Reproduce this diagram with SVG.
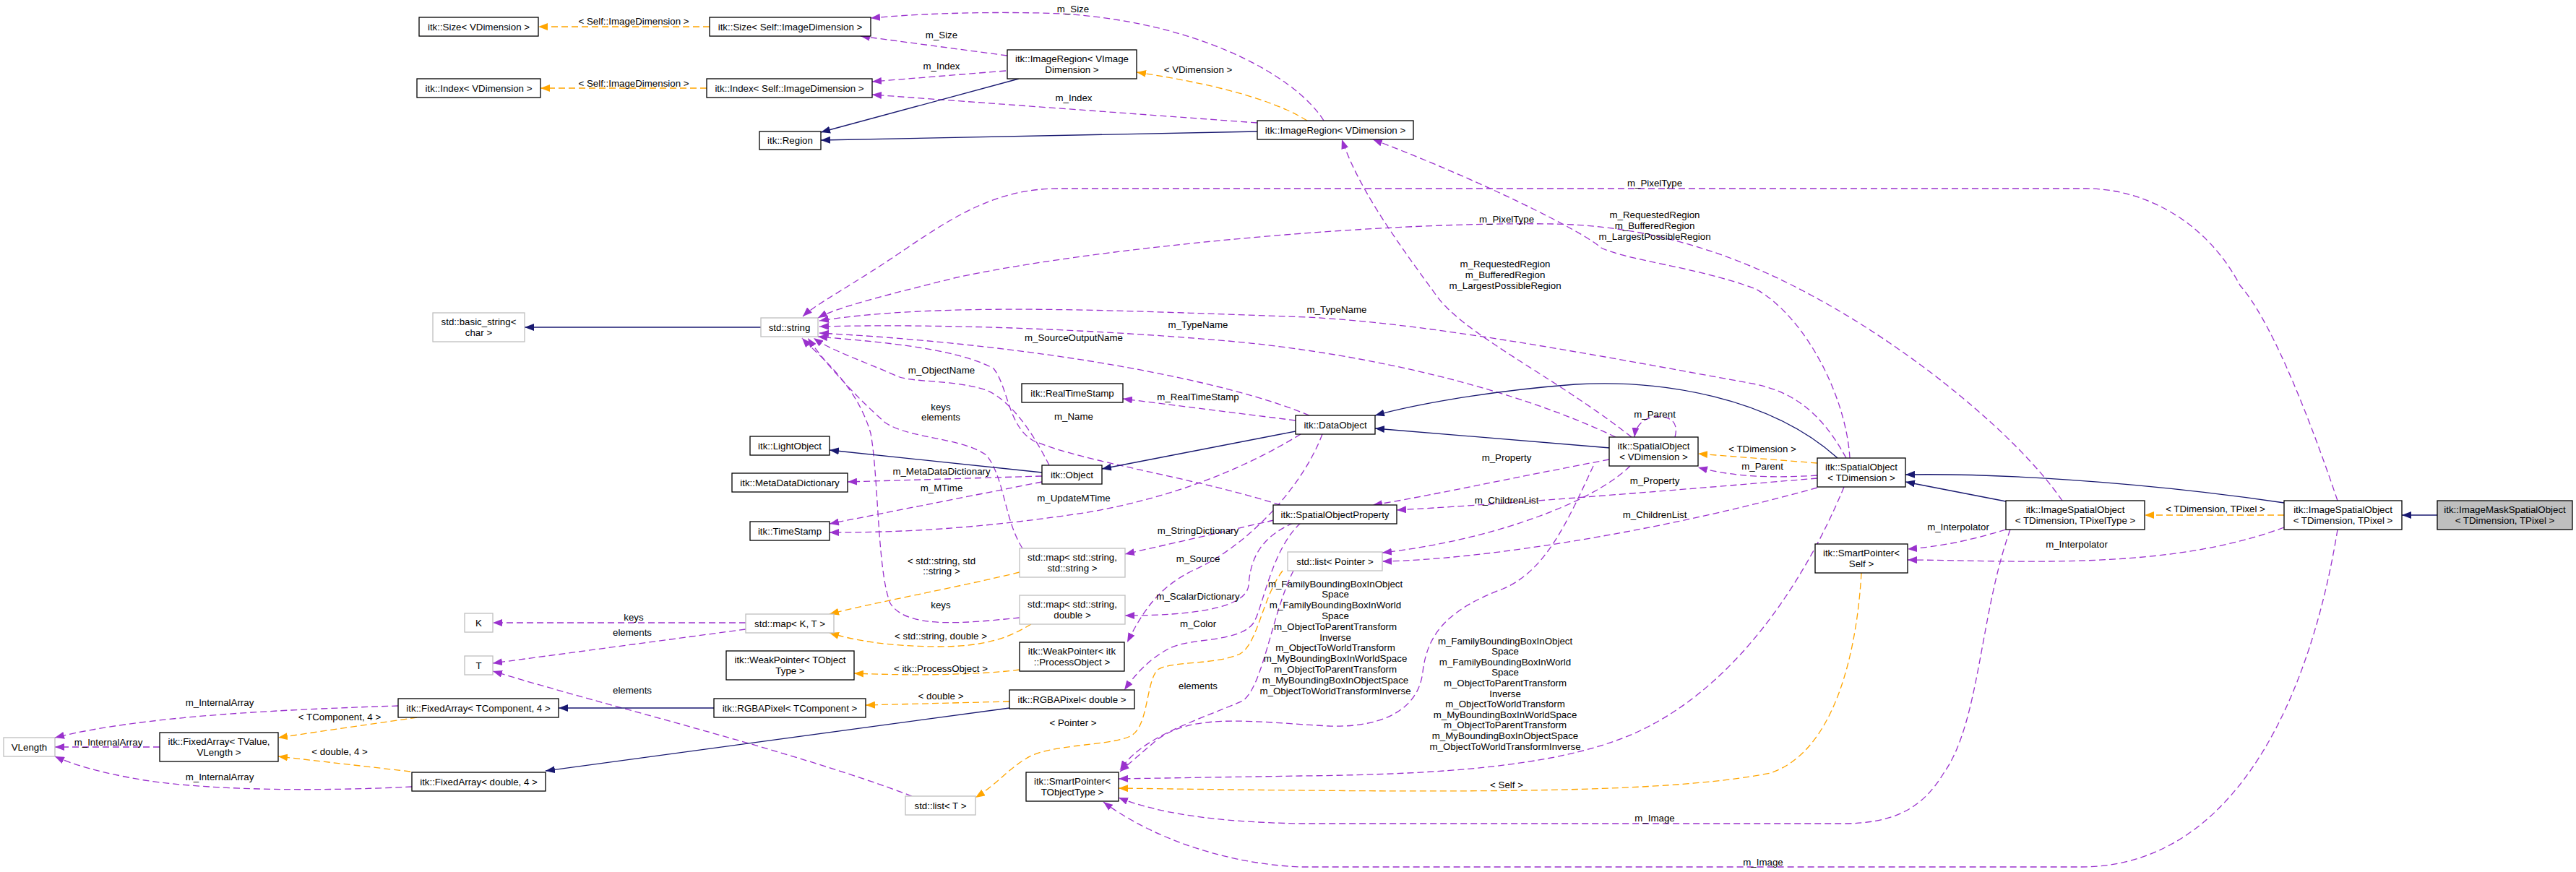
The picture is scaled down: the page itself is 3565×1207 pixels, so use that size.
<svg xmlns="http://www.w3.org/2000/svg" width="3565" height="1207" viewBox="0 0 3565 1207">
<style>
text{font-family:"Liberation Sans",Arial,Helvetica,sans-serif;font-size:13.3px;text-anchor:middle;fill:#000}
.node rect{fill:#fff;stroke:#000;stroke-width:1.3}
.node rect.u{stroke:#bfbfbf}
.node rect.cur{fill:#bfbfbf}
#edges path{fill:none;stroke-width:1.3}
#edges path.inh{stroke:#191970;marker-end:url(#a-inh)}
#edges path.use{stroke:#9a32cd;stroke-dasharray:9,5;marker-end:url(#a-use)}
#edges path.tpl{stroke:#ffa500;stroke-dasharray:9,5;marker-end:url(#a-tpl)}
</style>
<defs>
<marker id="a-inh" markerWidth="14" markerHeight="10" refX="13" refY="5" orient="auto" markerUnits="userSpaceOnUse"><path d="M0,0 L13,5 L0,10 z" fill="#191970" stroke="none"/></marker>
<marker id="a-use" markerWidth="14" markerHeight="10" refX="13" refY="5" orient="auto" markerUnits="userSpaceOnUse"><path d="M0,0 L13,5 L0,10 z" fill="#9a32cd" stroke="none"/></marker>
<marker id="a-tpl" markerWidth="14" markerHeight="10" refX="13" refY="5" orient="auto" markerUnits="userSpaceOnUse"><path d="M0,0 L13,5 L0,10 z" fill="#ffa500" stroke="none"/></marker>
</defs>
<rect width="3565" height="1207" fill="#fff"/>
<g id="edges">
<path class="tpl" d="M982,37 L745,37"/>
<path class="tpl" d="M978,122 L748,122"/>
<path class="use" d="M1832,167 C1790,100 1640,22 1440,18 C1340,16 1260,20 1205,25"/>
<path class="use" d="M1394,77 L1191,50"/>
<path class="use" d="M1392,98 L1207,113"/>
<path class="use" d="M1740,170 L1207,131"/>
<path class="inh" d="M1410,109 L1136,183"/>
<path class="inh" d="M1740,182 L1136,194"/>
<path class="tpl" d="M1809,167 C1750,130 1640,110 1573,100"/>
<path class="inh" d="M1053,453 L726,453"/>
<path class="use" d="M3235,693 C3190,560 3140,440 3100,395 C3050,300 2960,261 2888,261 L1464,261 C1380,261 1320,300 1260,340 C1180,395 1130,420 1111,438"/>
<path class="use" d="M2854,693 C2790,600 2640,480 2509,410 C2400,350 2280,312 2150,310 C1900,306 1500,345 1320,385 C1220,410 1160,425 1132,440"/>
<path class="use" d="M2555,634 C2520,570 2480,540 2420,530 C2200,490 1950,442 1780,438 C1550,430 1300,418 1134,444"/>
<path class="use" d="M2236,605 C2100,540 1900,490 1700,472 C1500,455 1300,448 1134,452"/>
<path class="use" d="M1812,575 C1700,528 1450,478 1134,461"/>
<path class="use" d="M1452,644 C1430,600 1400,555 1365,540 C1320,525 1260,530 1240,520 C1195,500 1150,485 1126,468"/>
<path class="use" d="M1772,699 C1650,660 1500,640 1430,610 C1395,590 1395,535 1375,510 C1320,480 1200,472 1132,466"/>
<path class="use" d="M1415,759 C1390,720 1390,660 1365,630 C1330,605 1260,608 1225,585 C1180,545 1140,500 1118,468"/>
<path class="use" d="M1411,855 C1340,862 1255,872 1232,835 C1214,790 1216,660 1205,600 C1185,530 1130,490 1110,468"/>
<path class="inh" d="M1442,654 L1148,623"/>
<path class="use" d="M1442,659 L1173,667"/>
<path class="use" d="M1442,667 L1148,725"/>
<path class="use" d="M1800,601 C1720,650 1620,690 1500,710 C1350,732 1250,737 1148,737"/>
<path class="inh" d="M1793,597 L1525,649"/>
<path class="use" d="M1793,582 L1554,552"/>
<path class="use" d="M1830,601 C1800,680 1720,760 1650,790 C1600,815 1580,850 1560,889"/>
<path class="inh" d="M2543,634 C2450,550 2300,525 2180,532 C2050,542 1950,562 1903,575"/>
<path class="inh" d="M2228,620 L1903,593"/>
<path class="tpl" d="M2515,641 L2350,628"/>
<path class="use" d="M2515,658 C2450,662 2400,660 2350,647"/>
<path class="use" d="M2318,605 C2325,580 2305,575 2290,577 C2275,579 2264,588 2262,605"/>
<path class="use" d="M2227,636 C2100,660 1960,690 1900,699"/>
<path class="use" d="M2515,662 C2300,680 2050,700 1933,706"/>
<path class="use" d="M2256,645 C2200,700 2050,750 1913,765"/>
<path class="use" d="M2515,675 C2300,735 2050,775 1913,777"/>
<path class="use" d="M2258,605 C2150,520 2020,460 1985,405 C1930,330 1880,260 1857,193"/>
<path class="use" d="M2560,634 C2555,550 2500,440 2430,400 C2350,370 2250,360 2216,343 C2190,320 2050,250 1900,193"/>
<path class="use" d="M2205,645 C2170,720 2140,790 2080,815 C2000,845 1975,880 1969,930 C1962,990 1900,1007 1840,1005 C1740,1000 1650,985 1600,1025 C1580,1042 1565,1055 1550,1068"/>
<path class="use" d="M2552,674 C2500,800 2400,960 2250,1020 C2150,1060 2000,1072 1800,1074 L1548,1078"/>
<path class="tpl" d="M2576,793 C2570,900 2540,1040 2450,1070 C2300,1100 2000,1097 1548,1091"/>
<path class="use" d="M2782,733 C2740,850 2740,1000 2690,1070 C2660,1120 2620,1140 2550,1140 L1800,1140 C1680,1138 1600,1125 1548,1104"/>
<path class="use" d="M3235,733 C3200,950 3100,1200 2880,1200 L1800,1200 C1680,1195 1580,1150 1527,1110"/>
<path class="use" d="M2776,733 C2720,750 2680,757 2640,760"/>
<path class="use" d="M3161,730 C3000,790 2800,776 2640,775"/>
<path class="inh" d="M3161,696 C2950,665 2750,655 2637,657"/>
<path class="inh" d="M2776,694 L2637,667"/>
<path class="tpl" d="M3161,713 L2968,713"/>
<path class="inh" d="M3373,713 L3324,713"/>
<path class="use" d="M1763,720 L1557,767"/>
<path class="use" d="M1790,724 C1740,745 1730,780 1728,810 C1725,842 1650,852 1557,852"/>
<path class="use" d="M1800,724 C1760,760 1748,840 1735,862 C1715,890 1650,882 1619,897 C1590,912 1570,935 1556,955"/>
<path class="tpl" d="M1411,792 C1330,812 1200,836 1148,850"/>
<path class="tpl" d="M1427,864 C1400,880 1370,895 1300,895 C1230,895 1180,886 1148,876"/>
<path class="use" d="M1032,862 L682,862"/>
<path class="use" d="M1032,871 L682,918"/>
<path class="use" d="M1262,1102 C1100,1040 850,980 682,929"/>
<path class="tpl" d="M1775,790 C1745,830 1740,900 1711,907 C1680,920 1620,915 1602,927 C1585,945 1590,1010 1562,1020 C1530,1033 1450,1030 1420,1050 C1395,1065 1380,1085 1350,1104"/>
<path class="use" d="M1790,790 C1760,850 1748,950 1720,970 C1650,1000 1580,1020 1550,1066"/>
<path class="tpl" d="M1411,927 C1350,935 1250,935 1182,932"/>
<path class="tpl" d="M1397,971 L1198,976"/>
<path class="inh" d="M1397,980 L755,1067"/>
<path class="inh" d="M988,980 L773,980"/>
<path class="use" d="M551,977 C400,982 200,990 76,1021"/>
<path class="use" d="M221,1034 L76,1034"/>
<path class="use" d="M570,1089 C450,1095 300,1095 200,1080 C140,1070 100,1058 76,1047"/>
<path class="tpl" d="M577,993 L385,1021"/>
<path class="tpl" d="M568,1068 L385,1047"/>
<g id="edge-labels">
<text x="877" y="33.5">&lt; Self::ImageDimension &gt;</text>
<text x="877" y="119.5">&lt; Self::ImageDimension &gt;</text>
<text x="1485" y="16.5">m_Size</text>
<text x="1303" y="52.5">m_Size</text>
<text x="1303" y="95.5">m_Index</text>
<text x="1486" y="139.5">m_Index</text>
<text x="1658" y="100.5">&lt; VDimension &gt;</text>
<text x="2290" y="257.5">m_PixelType</text>
<text x="2085" y="307.5">m_PixelType</text>
<text x="2290" y="301.5">m_RequestedRegion</text>
<text x="2290" y="316.5">m_BufferedRegion</text>
<text x="2290" y="331.5">m_LargestPossibleRegion</text>
<text x="2083" y="369.5">m_RequestedRegion</text>
<text x="2083" y="384.5">m_BufferedRegion</text>
<text x="2083" y="399.5">m_LargestPossibleRegion</text>
<text x="1850" y="432.5">m_TypeName</text>
<text x="1658" y="453.5">m_TypeName</text>
<text x="1486" y="471.5">m_SourceOutputName</text>
<text x="1303" y="516.5">m_ObjectName</text>
<text x="1658" y="553.5">m_RealTimeStamp</text>
<text x="1302" y="567.5">keys</text>
<text x="1302" y="581.5">elements</text>
<text x="1486" y="580.5">m_Name</text>
<text x="2290" y="577.5">m_Parent</text>
<text x="2439" y="649.5">m_Parent</text>
<text x="2439" y="625.5">&lt; TDimension &gt;</text>
<text x="2085" y="637.5">m_Property</text>
<text x="2290" y="669.5">m_Property</text>
<text x="1303" y="656.5">m_MetaDataDictionary</text>
<text x="1303" y="679.5">m_MTime</text>
<text x="1486" y="693.5">m_UpdateMTime</text>
<text x="2085" y="696.5">m_ChildrenList</text>
<text x="2290" y="716.5">m_ChildrenList</text>
<text x="3066" y="708.5">&lt; TDimension, TPixel &gt;</text>
<text x="2710" y="733.5">m_Interpolator</text>
<text x="2874" y="757.5">m_Interpolator</text>
<text x="1658" y="738.5">m_StringDictionary</text>
<text x="1658" y="777.5">m_Source</text>
<text x="1303" y="780.5">&lt; std::string, std</text>
<text x="1303" y="794.5">::string &gt;</text>
<text x="1658" y="829.5">m_ScalarDictionary</text>
<text x="1302" y="841.5">keys</text>
<text x="1658" y="867.5">m_Color</text>
<text x="1302" y="884.5">&lt; std::string, double &gt;</text>
<text x="1302" y="929.5">&lt; itk::ProcessObject &gt;</text>
<text x="1658" y="953.5">elements</text>
<text x="1302" y="967.5">&lt; double &gt;</text>
<text x="1485" y="1004.5">&lt; Pointer &gt;</text>
<text x="1848" y="812.5">m_FamilyBoundingBoxInObject</text>
<text x="1848" y="827.3">Space</text>
<text x="1848" y="842.1">m_FamilyBoundingBoxInWorld</text>
<text x="1848" y="856.9">Space</text>
<text x="1848" y="871.7">m_ObjectToParentTransform</text>
<text x="1848" y="886.5">Inverse</text>
<text x="1848" y="901.3">m_ObjectToWorldTransform</text>
<text x="1848" y="916.1">m_MyBoundingBoxInWorldSpace</text>
<text x="1848" y="930.9">m_ObjectToParentTransform</text>
<text x="1848" y="945.7">m_MyBoundingBoxInObjectSpace</text>
<text x="1848" y="960.5">m_ObjectToWorldTransformInverse</text>
<text x="2083" y="891.5">m_FamilyBoundingBoxInObject</text>
<text x="2083" y="906.1">Space</text>
<text x="2083" y="920.7">m_FamilyBoundingBoxInWorld</text>
<text x="2083" y="935.3">Space</text>
<text x="2083" y="949.9">m_ObjectToParentTransform</text>
<text x="2083" y="964.5">Inverse</text>
<text x="2083" y="979.1">m_ObjectToWorldTransform</text>
<text x="2083" y="993.7">m_MyBoundingBoxInWorldSpace</text>
<text x="2083" y="1008.3">m_ObjectToParentTransform</text>
<text x="2083" y="1022.9">m_MyBoundingBoxInObjectSpace</text>
<text x="2083" y="1037.5">m_ObjectToWorldTransformInverse</text>
<text x="2085" y="1090.5">&lt; Self &gt;</text>
<text x="2290" y="1136.5">m_Image</text>
<text x="2440" y="1197.5">m_Image</text>
<text x="877" y="858.5">keys</text>
<text x="875" y="879.5">elements</text>
<text x="875" y="959.5">elements</text>
<text x="304" y="976.5">m_InternalArray</text>
<text x="150" y="1031.5">m_InternalArray</text>
<text x="304" y="1079.5">m_InternalArray</text>
<text x="470" y="996.5">&lt; TComponent, 4 &gt;</text>
<text x="470" y="1044.5">&lt; double, 4 &gt;</text>
</g>
</g>
<g id="n_size_v" class="node"><rect x="580" y="24" width="165" height="26"/><text x="662.5" y="41.5">itk::Size&lt; VDimension &gt;</text></g>
<g id="n_index_v" class="node"><rect x="577" y="109" width="171" height="26"/><text x="662.5" y="126.5">itk::Index&lt; VDimension &gt;</text></g>
<g id="n_size_s" class="node"><rect x="982" y="24" width="223" height="26"/><text x="1093.5" y="41.5">itk::Size&lt; Self::ImageDimension &gt;</text></g>
<g id="n_index_s" class="node"><rect x="978" y="109" width="229" height="26"/><text x="1092.5" y="126.5">itk::Index&lt; Self::ImageDimension &gt;</text></g>
<g id="n_region" class="node"><rect x="1051" y="182" width="85" height="25"/><text x="1093.5" y="199">itk::Region</text></g>
<g id="n_imgregion_vi" class="node"><rect x="1394" y="69" width="179" height="40"/><text x="1483.5" y="85.5">itk::ImageRegion&lt; VImage</text><text x="1483.5" y="100.5">Dimension &gt;</text></g>
<g id="n_imgregion_v" class="node"><rect x="1740" y="167" width="216" height="26"/><text x="1848" y="184.5">itk::ImageRegion&lt; VDimension &gt;</text></g>
<g id="n_basic_string" class="node"><rect class="u" x="599" y="433" width="127" height="40"/><text x="662.5" y="449.5">std::basic_string&lt;</text><text x="662.5" y="464.5">char &gt;</text></g>
<g id="n_string" class="node"><rect class="u" x="1053" y="440" width="79" height="26"/><text x="1092.5" y="457.5">std::string</text></g>
<g id="n_realtimestamp" class="node"><rect x="1414" y="531" width="140" height="26"/><text x="1484" y="548.5">itk::RealTimeStamp</text></g>
<g id="n_lightobject" class="node"><rect x="1038" y="604" width="110" height="26"/><text x="1093" y="621.5">itk::LightObject</text></g>
<g id="n_metadatadict" class="node"><rect x="1013" y="655" width="160" height="26"/><text x="1093" y="672.5">itk::MetaDataDictionary</text></g>
<g id="n_object" class="node"><rect x="1442" y="644" width="83" height="26"/><text x="1483.5" y="661.5">itk::Object</text></g>
<g id="n_timestamp" class="node"><rect x="1038" y="722" width="110" height="26"/><text x="1093" y="739.5">itk::TimeStamp</text></g>
<g id="n_map_ss" class="node"><rect class="u" x="1411" y="759" width="146" height="40"/><text x="1484" y="775.5">std::map&lt; std::string,</text><text x="1484" y="790.5">std::string &gt;</text></g>
<g id="n_dataobject" class="node"><rect x="1793" y="575" width="110" height="26"/><text x="1848" y="592.5">itk::DataObject</text></g>
<g id="n_so_v" class="node"><rect x="2227" y="605" width="123" height="40"/><text x="2288.5" y="621.5">itk::SpatialObject</text><text x="2288.5" y="636.5">&lt; VDimension &gt;</text></g>
<g id="n_so_t" class="node"><rect x="2515" y="634" width="122" height="40"/><text x="2576" y="650.5">itk::SpatialObject</text><text x="2576" y="665.5">&lt; TDimension &gt;</text></g>
<g id="n_soprop" class="node"><rect x="1762" y="699" width="171" height="26"/><text x="1847.5" y="716.5">itk::SpatialObjectProperty</text></g>
<g id="n_list_ptr" class="node"><rect class="u" x="1782" y="764" width="131" height="26"/><text x="1847.5" y="781.5">std::list&lt; Pointer &gt;</text></g>
<g id="n_sp_self" class="node"><rect x="2512" y="753" width="128" height="40"/><text x="2576" y="769.5">itk::SmartPointer&lt;</text><text x="2576" y="784.5">Self &gt;</text></g>
<g id="n_iso_tpt" class="node"><rect x="2776" y="693" width="192" height="40"/><text x="2872" y="709.5">itk::ImageSpatialObject</text><text x="2872" y="724.5">&lt; TDimension, TPixelType &gt;</text></g>
<g id="n_iso_tp" class="node"><rect x="3161" y="693" width="163" height="40"/><text x="3242.5" y="709.5">itk::ImageSpatialObject</text><text x="3242.5" y="724.5">&lt; TDimension, TPixel &gt;</text></g>
<g id="n_imso" class="node"><rect class="cur" x="3373" y="693" width="187" height="40"/><text x="3466.5" y="709.5">itk::ImageMaskSpatialObject</text><text x="3466.5" y="724.5">&lt; TDimension, TPixel &gt;</text></g>
<g id="n_map_kt" class="node"><rect class="u" x="1032" y="850" width="122" height="26"/><text x="1093" y="867.5">std::map&lt; K, T &gt;</text></g>
<g id="n_map_sd" class="node"><rect class="u" x="1411" y="824" width="146" height="40"/><text x="1484" y="840.5">std::map&lt; std::string,</text><text x="1484" y="855.5">double &gt;</text></g>
<g id="n_wp_t" class="node"><rect x="1005" y="901" width="177" height="40"/><text x="1093.5" y="917.5">itk::WeakPointer&lt; TObject</text><text x="1093.5" y="932.5">Type &gt;</text></g>
<g id="n_wp_po" class="node"><rect x="1411" y="889" width="145" height="40"/><text x="1483.5" y="905.5">itk::WeakPointer&lt; itk</text><text x="1483.5" y="920.5">::ProcessObject &gt;</text></g>
<g id="n_rgba_t" class="node"><rect x="988" y="967" width="210" height="26"/><text x="1093" y="984.5">itk::RGBAPixel&lt; TComponent &gt;</text></g>
<g id="n_rgba_d" class="node"><rect x="1397" y="955" width="173" height="26"/><text x="1483.5" y="972.5">itk::RGBAPixel&lt; double &gt;</text></g>
<g id="n_list_t" class="node"><rect class="u" x="1253" y="1102" width="97" height="26"/><text x="1301.5" y="1119.5">std::list&lt; T &gt;</text></g>
<g id="n_sp_t" class="node"><rect x="1420" y="1069" width="128" height="40"/><text x="1484" y="1085.5">itk::SmartPointer&lt;</text><text x="1484" y="1100.5">TObjectType &gt;</text></g>
<g id="n_K" class="node"><rect class="u" x="643" y="849" width="39" height="26"/><text x="662.5" y="866.5">K</text></g>
<g id="n_T" class="node"><rect class="u" x="643" y="908" width="39" height="26"/><text x="662.5" y="925.5">T</text></g>
<g id="n_fa_tc" class="node"><rect x="551" y="967" width="222" height="26"/><text x="662" y="984.5">itk::FixedArray&lt; TComponent, 4 &gt;</text></g>
<g id="n_vlength" class="node"><rect class="u" x="5" y="1021" width="71" height="26"/><text x="40.5" y="1038.5">VLength</text></g>
<g id="n_fa_tv" class="node"><rect x="221" y="1014" width="164" height="40"/><text x="303" y="1030.5">itk::FixedArray&lt; TValue,</text><text x="303" y="1045.5">VLength &gt;</text></g>
<g id="n_fa_d" class="node"><rect x="570" y="1069" width="185" height="26"/><text x="662.5" y="1086.5">itk::FixedArray&lt; double, 4 &gt;</text></g>
</svg>
